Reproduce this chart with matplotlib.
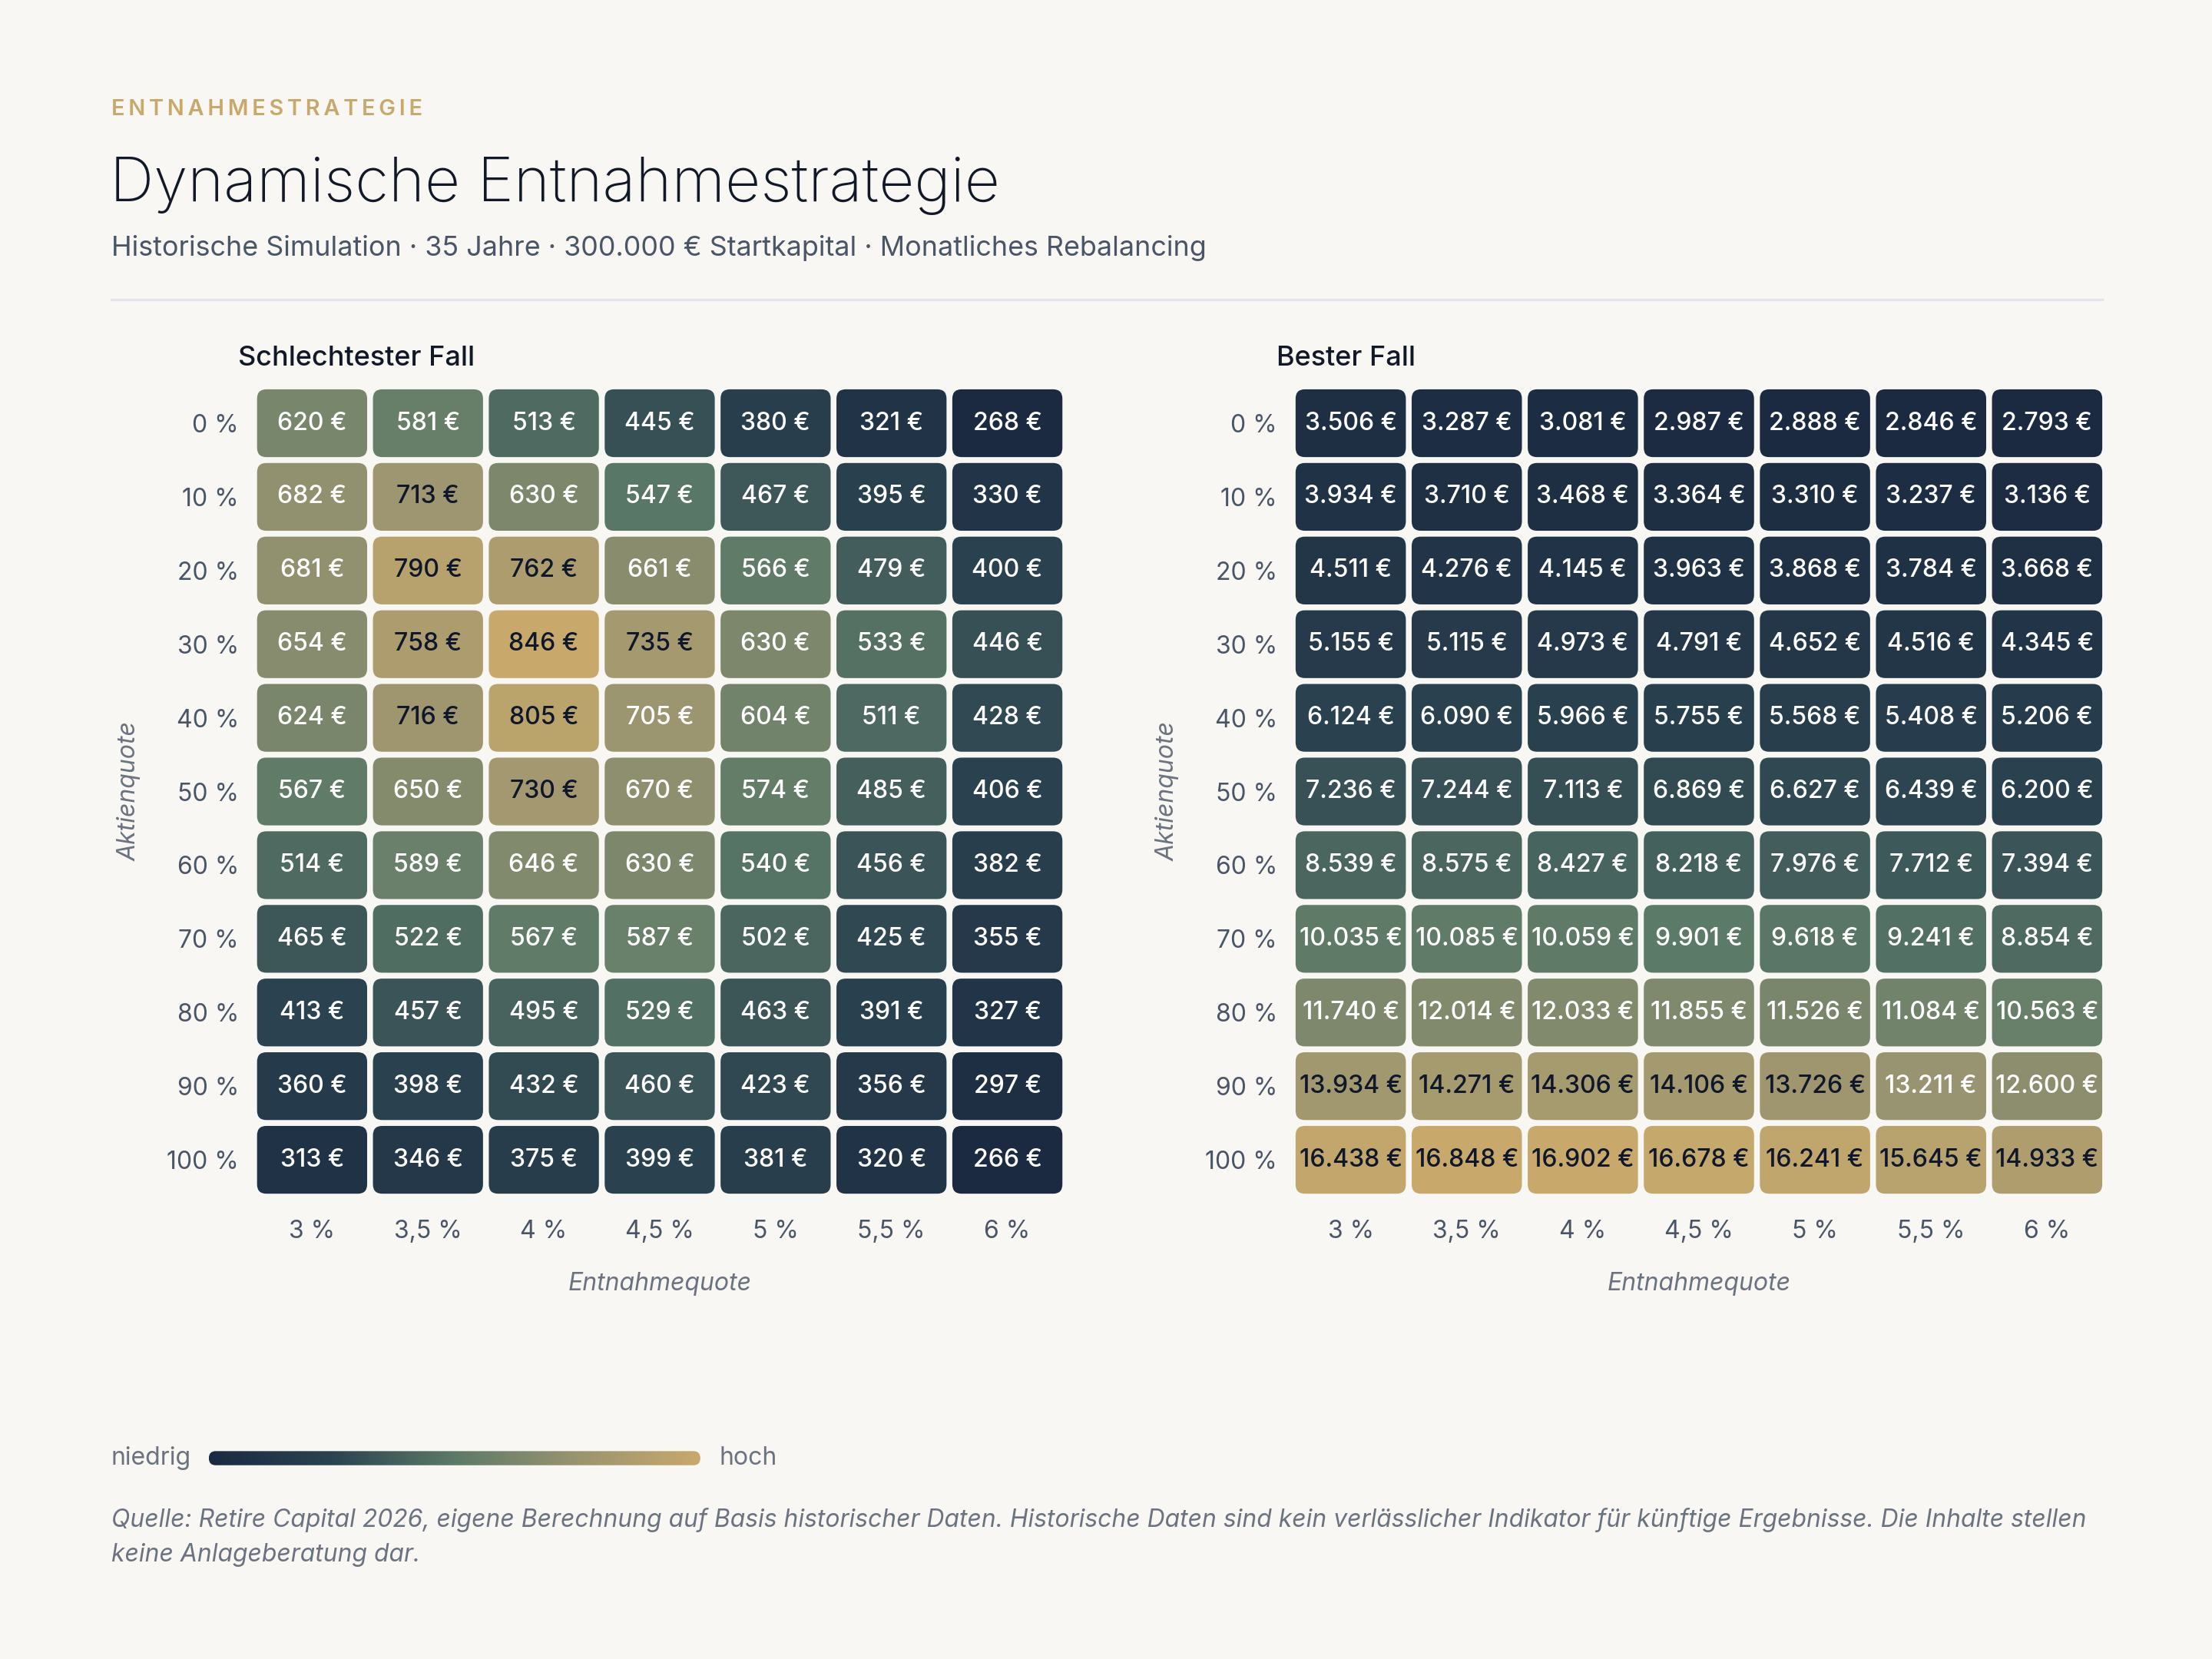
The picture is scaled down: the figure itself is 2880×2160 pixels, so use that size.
import matplotlib
matplotlib.use("Agg")
import matplotlib.pyplot as plt
import numpy as np
from matplotlib.colors import LinearSegmentedColormap, Normalize
from matplotlib.patches import FancyBboxPatch

plt.rcParams['font.family'] = ['Inter', 'DejaVu Sans']

# data
entnahme = ["3 %", "3,5 %", "4 %", "4,5 %", "5 %", "5,5 %", "6 %"]
aktien = ["0 %", "10 %", "20 %", "30 %", "40 %", "50 %", "60 %", "70 %", "80 %", "90 %", "100 %"]

worst = [
    [620, 581, 513, 445, 380, 321, 268],
    [682, 713, 630, 547, 467, 395, 330],
    [681, 790, 762, 661, 566, 479, 400],
    [654, 758, 846, 735, 630, 533, 446],
    [624, 716, 805, 705, 604, 511, 428],
    [567, 650, 730, 670, 574, 485, 406],
    [514, 589, 646, 630, 540, 456, 382],
    [465, 522, 567, 587, 502, 425, 355],
    [413, 457, 495, 529, 463, 391, 327],
    [360, 398, 432, 460, 423, 356, 297],
    [313, 346, 375, 399, 381, 320, 266],
]
best = [
    [3506, 3287, 3081, 2987, 2888, 2846, 2793],
    [3934, 3710, 3468, 3364, 3310, 3237, 3136],
    [4511, 4276, 4145, 3963, 3868, 3784, 3668],
    [5155, 5115, 4973, 4791, 4652, 4516, 4345],
    [6124, 6090, 5966, 5755, 5568, 5408, 5206],
    [7236, 7244, 7113, 6869, 6627, 6439, 6200],
    [8539, 8575, 8427, 8218, 7976, 7712, 7394],
    [10035, 10085, 10059, 9901, 9618, 9241, 8854],
    [11740, 12014, 12033, 11855, 11526, 11084, 10563],
    [13934, 14271, 14306, 14106, 13726, 13211, 12600],
    [16438, 16848, 16902, 16678, 16241, 15645, 14933],
]

BG = "#f8f7f3"
cmap = LinearSegmentedColormap.from_list(
    "rc", [(0.0, "#1b2a41"), (0.25, "#2b4350"), (0.5, "#5c7a68"),
           (0.75, "#9a9470"), (1.0, "#c8a96b")])

fig = plt.figure(figsize=(12, 9), dpi=240, facecolor=BG)


def fmt(v):
    return f"{v:,}".replace(",", ".") + " €"


def heatmap(ax, data, title):
    arr = np.array(data)
    norm = Normalize(arr.min(), arr.max())
    ax.set_facecolor(BG)
    gx, gy = 0.05, 0.08
    for r in range(arr.shape[0]):
        for c in range(arr.shape[1]):
            v = arr[r, c]
            t = norm(v)
            box = FancyBboxPatch((c - 0.5 + gx / 2, r - 0.5 + gy / 2), 1 - gx, 1 - gy,
                                 boxstyle="round,pad=0,rounding_size=0.08",
                                 mutation_aspect=1.6,
                                 facecolor=cmap(t), edgecolor="none")
            ax.add_patch(box)
            ax.text(c, r, fmt(v), ha="center", va="center", fontsize=9.6,
                    fontweight="medium",
                    color="#0f172a" if t > 0.765 else "white")
    ax.set_xlim(-0.5, arr.shape[1] - 0.5)
    ax.set_ylim(arr.shape[0] - 0.5, -0.5)
    ax.set_xticks(range(len(entnahme)))
    ax.set_xticklabels(entnahme)
    ax.set_yticks(range(len(aktien)))
    ax.set_yticklabels(aktien)
    ax.tick_params(length=0, labelsize=9.6, colors="#4a5568", pad=6)
    ax.tick_params(axis="x", pad=9)
    for s in ax.spines.values():
        s.set_visible(False)
    ax.set_xlabel("Entnahmequote", fontsize=9.6, style="italic", color="#6b7280", labelpad=11)
    ax.set_ylabel("Aktienquote", fontsize=9.6, style="italic", color="#6b7280", labelpad=10)
    ax.text(-0.02, 1.035, title, transform=ax.transAxes, fontsize=10.8,
            fontweight="medium", color="#111827", va="center", ha="left")


ax1 = fig.add_axes([0.1149, 0.2787, 0.3667, 0.4884])
ax2 = fig.add_axes([0.5844, 0.2787, 0.3673, 0.4884])
heatmap(ax1, worst, "Schlechtester Fall")
heatmap(ax2, best, "Bester Fall")

# header
fig.text(0.0503, 0.934, "\u2006".join("ENTNAHMESTRATEGIE"), fontsize=8.7, fontweight="semibold",
         color="#c8a96b", va="center")
fig.text(0.0497, 0.888, "Dynamische Entnahmestrategie", fontsize=24, fontweight="light",
         color="#111827", va="center")
fig.text(0.0503, 0.8505, "Historische Simulation · 35 Jahre · 300.000 € Startkapital · Monatliches Rebalancing",
         fontsize=10.75, color="#4a5568", va="center")
fig.add_artist(plt.Line2D([0.0503, 0.9503], [0.8195, 0.8195], color="#e3e5e8", lw=1.0))

# legend bar
cax = fig.add_axes([0.0944, 0.1168, 0.2222, 0.0085])
grad = np.linspace(0, 1, 512).reshape(1, -1)
im = cax.imshow(grad, aspect="auto", cmap=cmap, extent=(0, 1, 0, 1))
clip = FancyBboxPatch((0, 0), 1, 1, boxstyle="round,pad=0,rounding_size=0.014",
                      mutation_aspect=35.5, transform=cax.transData, facecolor="none", edgecolor="none")
cax.add_patch(clip)
im.set_clip_path(clip)
cax.set_xlim(0, 1)
cax.set_ylim(0, 1)
cax.axis("off")
fig.text(0.0503, 0.1212, "niedrig", fontsize=9.6, color="#6b7280", va="center")
fig.text(0.3253, 0.1212, "hoch", fontsize=9.6, color="#6b7280", va="center")

fig.text(0.0503, 0.0840,
         "Quelle: Retire Capital 2026, eigene Berechnung auf Basis historischer Daten. Historische Daten sind kein verlässlicher Indikator für künftige Ergebnisse. Die Inhalte stellen",
         fontsize=9.55, style="italic", color="#6b7280", va="center")
fig.text(0.0503, 0.0625, "keine Anlageberatung dar.", fontsize=9.55, style="italic", color="#6b7280", va="center")

fig.savefig("out.png", dpi=240, facecolor=BG)
